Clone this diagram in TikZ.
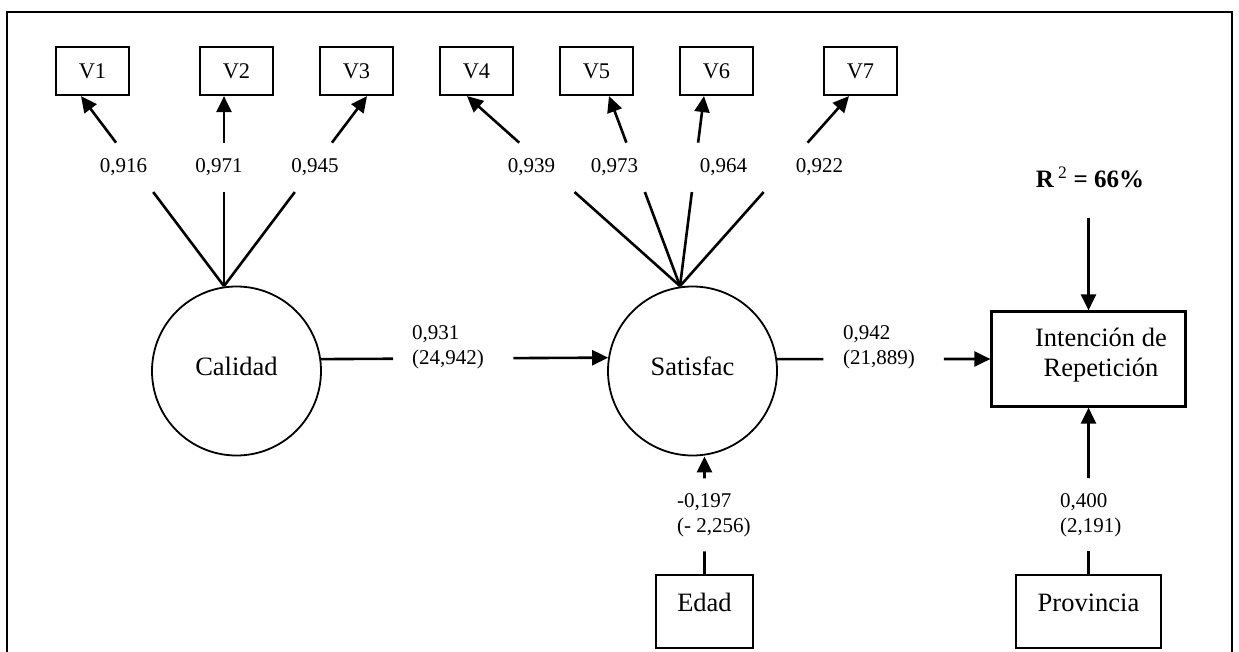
\documentclass[tikz,border=0pt]{standalone}
\usepackage{fontspec}
\setmainfont{Liberation Serif}
\usetikzlibrary{arrows.meta,calc}
\begin{document}
\begin{tikzpicture}[x=1pt,y=-1pt,
  latent/.style={circle, draw, line width=1.8pt, minimum size=169pt, inner sep=0pt,
    font=\fontsize{26.5}{30}\selectfont, text height=18pt, text depth=10pt},
  manifest/.style={rectangle, draw, line width=2.2pt, inner sep=0pt,
    minimum width=73pt, minimum height=48pt, font=\fontsize{22.4}{26}\selectfont},
  obsbox/.style={rectangle, draw, line width=2.2pt, inner sep=0pt,
    font=\fontsize{26.5}{30}\selectfont, text height=18pt, text depth=19pt},
  conn/.style={line width=2.6pt},
  arr/.style={conn, -{Triangle[length=16pt,width=15pt]}},
  coef/.style={inner sep=0pt, font=\fontsize{21}{25}\selectfont, align=left},
]
\useasboundingbox (0,0) rectangle (1239,652);

% outer frame, open at the bottom
\draw[line width=2.6pt] (7,660) -- (7,12) -- (1232,12) -- (1232,660);

% indicators
\node[manifest] (v1) at (92.5,71) {V1};
\node[manifest] (v2) at (236.5,71) {V2};
\node[manifest] (v3) at (356.5,71) {V3};
\node[manifest] (v4) at (476.5,71) {V4};
\node[manifest] (v5) at (596.5,71) {V5};
\node[manifest] (v6) at (716.5,71) {V6};
\node[manifest] (v7) at (860.5,71) {V7};

% latent constructs
\node[latent] (cal) at (236.5,371) {Calidad};
\node[latent] (sat) at (692.5,371) {Satisfac};

% observed variables
\node[obsbox, minimum width=194pt, minimum height=95pt] (int) at (1088.5,359) {};
\node[align=center, inner sep=0pt, font=\fontsize{26.5}{30}\selectfont] (intlbl) at (1101,355) {Intención de\\Repetición};
\node[obsbox, minimum width=97pt, minimum height=73pt] (edad) at (704.5,611.5) {Edad};
\node[obsbox, minimum width=145pt, minimum height=73pt] (prov) at (1088.5,611.5) {Provincia};
\node[inner sep=0pt, font=\fontsize{25}{30}\selectfont\bfseries, anchor=base] (r2) at (1090,188)
  {R\,\textsuperscript{\mdseries 2} = 66\%};

% loadings of Calidad
\coordinate (calTop) at ($(cal.north)+(-12.5,0.5)$);
\coordinate (t1) at ($(v1.south)+(-11.5,0)$);
\coordinate (t2) at ($(v2.south)+(-12.5,0)$);
\coordinate (t3) at ($(v3.south)+(10.5,0)$);
\foreach \v in {1,2,3}{
  \draw[conn] (calTop) -- ($(calTop)!0.495!(t\v)$);
  \draw[arr] ($(calTop)!0.755!(t\v)$) -- (t\v);
}

% loadings of Satisfac
\coordinate (satTop) at ($(sat.north)+(-12.5,0.5)$);
\coordinate (t4) at ($(v4.south)+(-9.5,0)$);
\coordinate (t5) at ($(v5.south)+(12.5,0)$);
\coordinate (t6) at ($(v6.south)+(-12.5,0)$);
\coordinate (t7) at ($(v7.south)+(-11.5,0)$);
\foreach \v in {4,5,6,7}{
  \draw[conn] (satTop) -- ($(satTop)!0.495!(t\v)$);
  \draw[arr] ($(satTop)!0.755!(t\v)$) -- (t\v);
}

\node[coef, anchor=base] (l1) at (123.5,173) {0,916};
\node[coef, anchor=base] (l2) at (219,173) {0,971};
\node[coef, anchor=base] (l3) at (315,173) {0,945};
\node[coef, anchor=base] (l4) at (531.5,173) {0,939};
\node[coef, anchor=base] (l5) at (614.5,173) {0,973};
\node[coef, anchor=base] (l6) at (723.5,173) {0,964};
\node[coef, anchor=base] (l7) at (819.5,173) {0,922};

% structural paths
\coordinate (a1) at (cal.8.16);
\coordinate (a2) at (sat.171.84);
\draw[conn] (a1) -- ($(a1)!0.251!(a2)$);
\draw[arr] ($(a1)!0.670!(a2)$) -- (a2);
\node[coef, anchor=north west] (l8) at (412,325.8) {0,931\\(24,942)};

\coordinate (b1) at (sat.8.16);
\draw[conn] (b1) -- ($(b1)!0.217!(int.west)$);
\draw[arr] ($(b1)!0.782!(int.west)$) -- (int.west);
\node[coef, anchor=north west] (l9) at (843,325.8) {0,942\\(21,889)};

\coordinate (c2) at (edad.north |- sat.south);
\draw[conn] (edad.north) -- ($(edad.north)!0.192!(c2)$);
\draw[arr] ($(edad.north)!0.812!(c2)$) -- (c2);
\node[coef, anchor=north west] (l10) at (677,493.8) {-0,197\\(- 2,256)};

\draw[conn] (prov.north) -- ($(prov.north)!0.1365!(int.south)$);
\draw[arr] ($(prov.north)!0.576!(int.south)$) -- (int.south);
\node[coef, anchor=north west] (l11) at (1060,493.8) {0,400\\(2,191)};

\draw[arr, shorten <=29pt] (r2.south -| int.north) -- (int.north);
\end{tikzpicture}
\end{document}
